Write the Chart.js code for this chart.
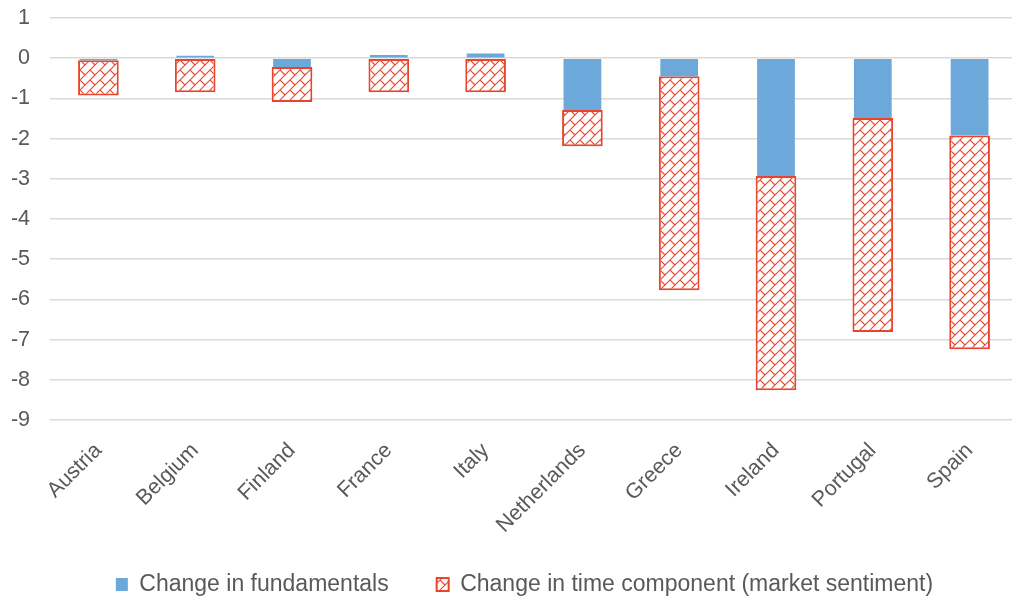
<!DOCTYPE html>
<html>
<head>
<meta charset="utf-8">
<script src="https://cdn.jsdelivr.net/npm/chart.js@4.4.0/dist/chart.umd.min.js"></script>
<style>
  html, body { margin: 0; padding: 0; background: #fff; overflow: hidden; }
  #wrap { width: 1052px; height: 599px; }
</style>
</head>
<body>
<div id="wrap"><canvas id="chart"></canvas></div>
<script>
// Data
const countries = ['Austria', 'Belgium', 'Finland', 'France', 'Italy', 'Netherlands', 'Greece', 'Ireland', 'Portugal', 'Spain'];
const fundamentals = [-0.05, 0.06, -0.22, 0.08, 0.12, -1.29, -0.45, -2.93, -1.49, -1.92];
const timeComponent = [-0.88, -0.85, -0.87, -0.85, -0.85, -0.9, -5.32, -5.33, -5.32, -5.32];
const yTicks = [1, 0, -1, -2, -3, -4, -5, -6, -7, -8, -9];

const BLUE = '#6CA8DA';
const RED = '#E8452C';
const GREY = '#595959';
const FONT = 'Liberation Sans, Arial, sans-serif';

// diagonal brick hatch (staggered bricks running up-right)
function makeHatch() {
    const c = document.createElement('canvas');
    c.width = 10; c.height = 10;
    const g = c.getContext('2d');
    g.fillStyle = '#fff';
    g.fillRect(0, 0, 10, 10);
    g.strokeStyle = RED;
    g.lineWidth = 1.1;
    g.beginPath();
    g.moveTo(-1, 11); g.lineTo(11, -1);
    g.moveTo(-6, 6); g.lineTo(6, -6);
    g.moveTo(4, 16); g.lineTo(16, 4);
    // brick joints
    g.moveTo(0, 0); g.lineTo(5, 5);
    g.stroke();
    return g.createPattern(c, 'repeat');
}

// nudge the legend to where the original sits
const legendShift = {
    id: 'legendShift',
    afterLayout(chart) {
        const lg = chart.legend;
        lg.left += 10; lg.right += 10;
        lg.top += 7; lg.bottom += 7;
    }
};

const ctx = document.getElementById('chart').getContext('2d');
new Chart(ctx, {
    type: 'bar',
    data: {
        labels: countries,
        datasets: [
            {
                label: 'Change in fundamentals',
                data: fundamentals,
                backgroundColor: BLUE,
                borderWidth: 0,
                barPercentage: 0.39,
                categoryPercentage: 1
            },
            {
                label: 'Change in time component (market sentiment)',
                data: timeComponent,
                backgroundColor: makeHatch(),
                borderColor: RED,
                borderWidth: 2,
                borderSkipped: false,
                barPercentage: 0.42,
                categoryPercentage: 1
            }
        ]
    },
    plugins: [legendShift],
    options: {
        responsive: true,
        maintainAspectRatio: false,
        animation: false,
        layout: { padding: { top: 0, right: 34, left: 11, bottom: 0 } },
        plugins: {
            tooltip: { enabled: false },
            legend: {
                position: 'bottom',
                labels: {
                    color: GREY,
                    font: { family: FONT, size: 23 },
                    boxWidth: 12,
                    boxHeight: 13,
                    padding: 48
                }
            }
        },
        scales: {
            x: {
                stacked: true,
                grid: { display: false },
                border: { display: false },
                afterFit: axis => {
                    axis.height = 98;
                    axis._computeLabelArea = () => undefined;
                },
                ticks: {
                    color: GREY,
                    padding: 10,
                    font: { family: FONT, size: 21.5 },
                    maxRotation: 45,
                    minRotation: 45
                }
            },
            y: {
                stacked: true,
                min: -9,
                max: 1,
                afterBuildTicks: axis => { axis.ticks = yTicks.map(v => ({ value: v })); },
                afterFit: axis => {
                    axis.width = 39;
                    axis.paddingTop = 18;
                    axis.paddingBottom = 14;
                },
                grid: { color: '#D9D9D9', lineWidth: 1.5, drawTicks: false },
                border: { display: false },
                ticks: {
                    color: GREY,
                    padding: 20,
                    font: { family: FONT, size: 21.5 }
                }
            }
        }
    }
});
</script>
</body>
</html>
